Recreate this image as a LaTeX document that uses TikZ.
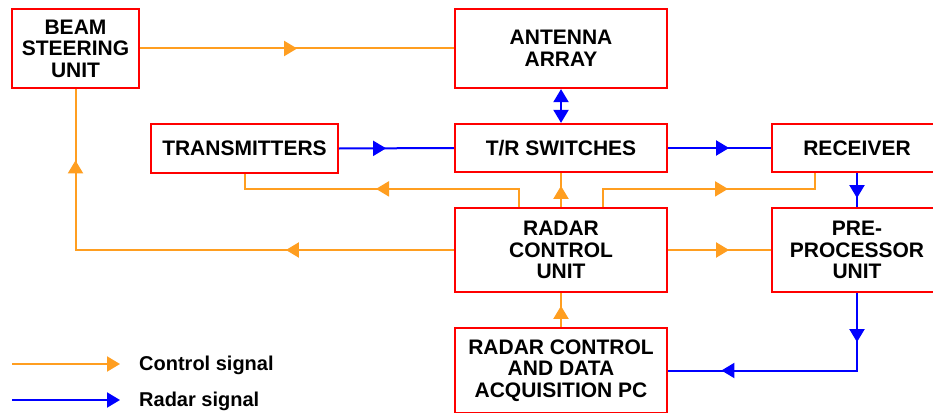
\documentclass[tikz,border=0pt]{standalone}
\usepackage{fontspec}
\setmainfont{Liberation Sans}
\usetikzlibrary{arrows.meta,decorations.markings}
\definecolor{ctrl}{RGB}{255,158,32}
\definecolor{rsig}{RGB}{0,0,255}
\definecolor{boxred}{RGB}{255,0,0}
\begin{document}
\begin{tikzpicture}[x=1pt,y=-1pt,
  box/.style={draw=boxred,line width=2.2pt,fill=white,inner sep=0pt,align=center,
    font=\bfseries\fontsize{21}{21.5}\selectfont},
  ctrlline/.style={color=ctrl,line width=2pt},
  radline/.style={color=rsig,line width=2pt},
  legtext/.style={anchor=west,inner sep=0pt,font=\bfseries\fontsize{20}{21}\selectfont},
  >={Triangle[length=13pt,width=15pt]},
  tipat/.style={postaction={decorate,decoration={markings,mark=at position #1 with {\arrow{>}}}}}]
\useasboundingbox (0,0) rectangle (933,412);
\clip (0,0) rectangle (933,412);
% boxes
\node[box,minimum width=127pt,minimum height=79pt] (bsu) at (75.5,48.5) {BEAM\\STEERING\\UNIT};
\node[box,minimum width=212pt,minimum height=79pt] (ant) at (561,48.5) {ANTENNA\\ARRAY};
\node[box,minimum width=187pt,minimum height=49pt] (tx) at (244.5,148.5) {TRANSMITTERS};
\node[box,minimum width=212pt,minimum height=48pt] (trs) at (561,148) {T/R SWITCHES};
\node[box,minimum width=170pt,minimum height=48pt] (rx) at (857,148) {RECEIVER};
\node[box,minimum width=212pt,minimum height=84pt] (rcu) at (561,250) {RADAR\\CONTROL\\UNIT};
\node[box,minimum width=170pt,minimum height=84pt] (pre) at (857,250) {PRE-\\PROCESSOR\\UNIT};
\node[box,minimum width=212pt,minimum height=85pt] (pc) at (561,370.5) {RADAR CONTROL\\AND DATA\\ACQUISITION PC};
% control connectors
\draw[ctrlline,tipat=157pt] (bsu.east) -- (ant.west);
\draw[ctrlline,tipat=21pt] (rcu.north) -- (trs.south);
\draw[ctrlline,tipat=161pt] ([xshift=-42pt]rcu.north) -- ++(0,-18) -| (tx.south);
\draw[ctrlline,tipat=143pt] ([xshift=42pt]rcu.north) -- ++(0,-18) -| ([xshift=-42pt]rx.south);
\draw[ctrlline,postaction={decorate,decoration={markings,
    mark=at position 168pt with {\arrow{>}},
    mark=at position 468pt with {\arrow{>}}}}] (rcu.west) -| (bsu.south);
\draw[ctrlline,tipat=61pt] (rcu.east) -- (pre.west);
\draw[ctrlline,tipat=21pt] (pc.north) -- (rcu.south);
% radar connectors
\draw[radline,tipat=47pt] (tx.east) -- (trs.west);
\draw[radline,<->] (trs.north) -- (ant.south);
\draw[radline,tipat=61pt] (trs.east) -- (rx.west);
\draw[radline,tipat=25pt] (rx.south) -- (pre.north);
\draw[radline,postaction={decorate,decoration={markings,
    mark=at position 49pt with {\arrow{>}},
    mark=at position 213pt with {\arrow{>}}}}] (pre.south) |- (pc.east);
% legend
\coordinate (lc1) at (12,364);
\coordinate (lc2) at (120,364);
\coordinate (lr1) at (12,400);
\coordinate (lr2) at (120,400);
\node[legtext] (lct) at (139,365) {Control signal};
\node[legtext] (lrt) at (139,401) {Radar signal};
\draw[ctrlline,->] (lc1) -- (lc2);
\draw[radline,->] (lr1) -- (lr2);
\end{tikzpicture}
\end{document}
